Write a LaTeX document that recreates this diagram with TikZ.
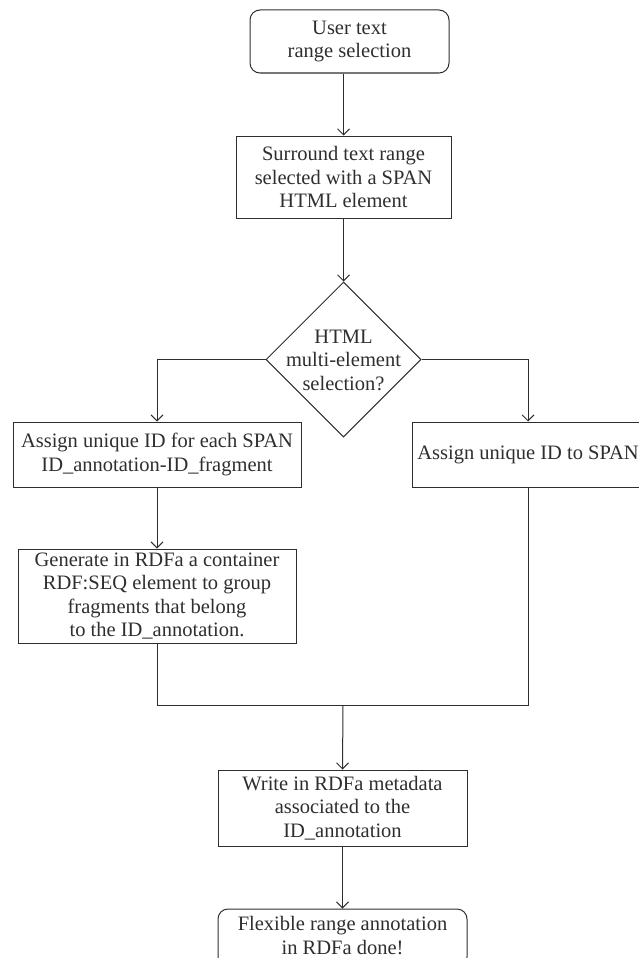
\documentclass[tikz,border=0pt]{standalone}
\usepackage{fontspec}
\setmainfont{Liberation Serif}
\usetikzlibrary{shapes.geometric,arrows.meta}
\definecolor{ink}{HTML}{2E2E2E}
\begin{document}
\begin{tikzpicture}[x=1pt,y=-1pt,
  every node/.style={font=\fontsize{20.5}{23.5}\selectfont, text=ink, align=center, inner sep=0pt},
  box/.style={draw=ink, line width=1pt, rectangle},
  term/.style={draw=ink, line width=1pt, rectangle, rounded corners=10pt},
  dia/.style={draw=ink, line width=1pt, diamond, aspect=1},
  conn/.style={draw=ink, line width=1pt},
  arr/.style={conn, -{Straight Barb[length=6pt,width=12pt,line width=1pt]}}
]
\useasboundingbox (0,0) rectangle (639,958);
\node[term, minimum width=199pt, minimum height=63pt] (start) at (349.5,41.5) {User text\\range selection};
\node[box, minimum width=215pt, minimum height=82pt] (surround) at (343.5,177) {Surround text range\\selected with a SPAN\\HTML element};
\node[dia, minimum width=155pt, minimum height=155pt] (dec) at (343.5,359.5) {};
\node (dectext) at (343.5,360) {HTML\\multi-element\\selection?};
\node[box, minimum width=288pt, minimum height=65pt] (left1) at (157,454.5) {Assign unique ID for each SPAN\\ID\_annotation-ID\_fragment};
\node[box, minimum width=232pt, minimum height=65pt] (right1) at (528,454.5) {Assign unique ID to SPAN};
\node[box, minimum width=278pt, minimum height=94pt] (left2) at (157,596) {Generate in RDFa a container\\RDF:SEQ element to group\\fragments that belong\\to the ID\_annotation.};
\coordinate (join) at (343,705);
\node[box, minimum width=249pt, minimum height=76pt] (write) at (342.5,808) {Write in RDFa metadata\\associated to the\\ID\_annotation};
\node[term, minimum width=249pt, minimum height=58pt] (end) at (342.5,938) {};
\node (endtext) at (342.5,935.5) {Flexible range annotation\\in RDFa done!};

\draw[arr] (start.south -| surround.north) -- (surround.north);
\draw[arr] (surround.south) -- (dec.north);
\draw[arr] (dec.west) -| (left1.north);
\draw[arr] (dec.east) -| (right1.north);
\draw[arr] (left1.south) -- (left2.north);
\draw[conn] (left2.south) |- (join);
\draw[conn] (right1.south) |- (join);
\draw[arr] (join) -- (write.north);
\draw[arr] (write.south) -- (end.north);
\end{tikzpicture}
\end{document}
